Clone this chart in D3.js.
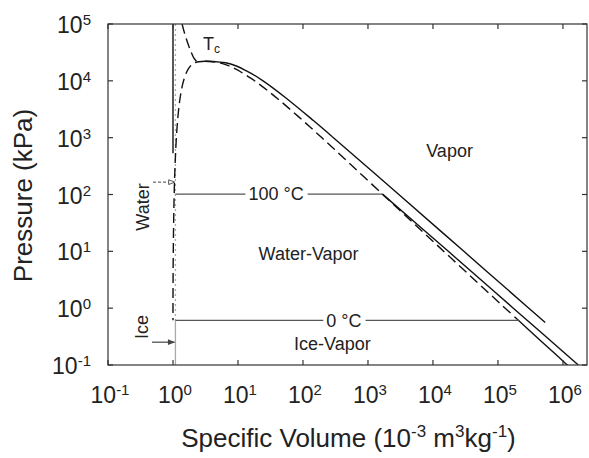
<!DOCTYPE html>
<html>
<head>
<meta charset="utf-8">
<title>Water p-v diagram</title>
<style>
html, body {
  margin: 0;
  padding: 0;
  background: #ffffff;
}

svg {
  display: block;
  font-family: "Liberation Sans", Arial, Helvetica, sans-serif;
}

.frame {
  fill: none;
  stroke: #333333;
  stroke-width: 1.2px;
}

.tick {
  stroke: #333333;
  stroke-width: 1.2px;
}

.tick-label {
  font-size: 23px;
  fill: #222222;
}

.axis-title {
  font-size: 26px;
  fill: #222222;
}

.region {
  font-size: 18px;
  fill: #222222;
}

.curve {
  fill: none;
  stroke: #111111;
  stroke-width: 1.4px;
}

.dashed {
  stroke-dasharray: 10, 5;
}

.isobar {
  stroke: #555555;
  stroke-width: 1.2px;
}

.ice {
  stroke: #aaaaaa;
  stroke-width: 1.3px;
}
</style>
</head>
<body>
<svg width="589" height="458"></svg>

<script src="https://d3js.org/d3.v7.min.js"></script>
<script>
// axis decades (powers of ten)
var xExponents = [-1, 0, 1, 2, 3, 4, 5, 6];
var yExponents = [-1, 0, 1, 2, 3, 4, 5];

// saturation table: pressure (kPa), liquid and vapor specific volume (10^-3 m3/kg)
var satPressure = [22064, 21044, 18666, 16529, 14601, 11284, 8587.9, 6416.6, 4692.3, 3346.9, 2319.6,
  1554.9, 1002.8, 618.23, 361.53, 198.67, 101.42, 70.182, 47.414, 31.201, 19.946, 12.352, 7.3851,
  4.2469, 2.3392, 1.2282, 0.6117];
var satLiquidV = [3.106, 2.217, 1.895, 1.741, 1.638, 1.499, 1.404, 1.333, 1.276, 1.229, 1.190,
  1.157, 1.127, 1.102, 1.080, 1.060, 1.043, 1.036, 1.029, 1.023, 1.017, 1.012, 1.008,
  1.004, 1.002, 1.000, 1.000];
var satVaporV = [3.106, 4.953, 6.950, 8.806, 10.80, 15.48, 21.66, 30.16, 42.13, 59.68, 86.09,
  127.2, 193.9, 307.1, 508.5, 891.5, 1672, 2359, 3405, 5040, 7667, 12026, 19520,
  32880, 57760, 106300, 206000];

// ice-vapor (sublimation) line
var subPressure = [0.6117, 0.4017, 0.2600, 0.1654, 0.1035, 0.0940];
var subVaporV = [206000, 308100, 467100, 720300, 1128800, 1238000];

// critical isotherm, below and above the critical pressure
var critPressure = [22064, 20000, 15000, 10000, 5000, 2000, 1000, 100, 10, 1, 0.56];
var critV = [3.106, 7.5, 13.5, 24.3, 54.7, 144.6, 294, 2986, 29860, 298600, 533000];
var superPressure = [100000, 70000, 45000, 32000, 25000, 22064];
var superV = [1.38, 1.5, 1.7, 1.9, 2.1, 2.3];

// 100 °C isotherm in the vapor
var iso100Pressure = [101.42, 10, 1, 0.1];
var iso100V = [1672, 17220, 172200, 1722000];

// compressed liquid, and ice
var liquidPressure = [100000, 530];
var liquidV = [1.0, 1.0];
var iceV = 1.09;
var triplePressure = 0.6117;
var boilPressure = 101.42;

function zipPts(v, p) {
  return v.map(function(d, i) { return [d, p[i]]; });
}

var svg = d3.select("svg");

var margin = {left: 108, right: 2, top: 24, bottom: 93};
var W = +svg.attr("width"), H = +svg.attr("height");

var x = d3.scaleLog()
  .domain([0.1, Math.pow(10, 6.37)])
  .range([margin.left, W - margin.right]);
var y = d3.scaleLog()
  .domain([0.1, 1e5])
  .range([H - margin.bottom, margin.top]);

var x0 = x.range()[0], x1 = x.range()[1];
var y0 = y.range()[0], y1 = y.range()[1];

svg.append("defs").append("clipPath").attr("id", "plot")
  .append("rect")
    .attr("x", x0).attr("y", y1)
    .attr("width", x1 - x0).attr("height", y0 - y1);

var defs = svg.select("defs");
defs.append("marker")
    .attr("id", "head-filled")
    .attr("viewBox", "0 0 10 10")
    .attr("refX", 9).attr("refY", 5)
    .attr("markerWidth", 7).attr("markerHeight", 6)
    .attr("orient", "auto")
  .append("path")
    .attr("d", "M0,1L10,5L0,9Z")
    .attr("fill", "#444");
defs.append("marker")
    .attr("id", "head-open")
    .attr("viewBox", "0 0 10 10")
    .attr("refX", 9).attr("refY", 5)
    .attr("markerWidth", 7).attr("markerHeight", 6)
    .attr("orient", "auto")
  .append("path")
    .attr("d", "M0,1L10,5L0,9Z")
    .attr("fill", "#fff")
    .attr("stroke", "#444")
    .attr("stroke-width", 1.5);

var line = d3.line()
  .x(function(d) { return x(d[0]); })
  .y(function(d) { return y(d[1]); })
  .curve(d3.curveCatmullRom.alpha(0.5));

var plot = svg.append("g").attr("clip-path", "url(#plot)");

// ice specific volume: dotted above the triple point, solid below
plot.append("path")
  .attr("class", "curve ice")
  .attr("stroke-dasharray", "2,3")
  .attr("d", line([[iceV, 1e5], [iceV, triplePressure]]));
plot.append("path")
  .attr("class", "curve ice")
  .attr("d", line([[iceV, triplePressure], [iceV, 0.05]]));

// compressed liquid
plot.append("path")
  .attr("class", "curve")
  .attr("stroke-width", 2)
  .attr("d", line(zipPts(liquidV, liquidPressure)));

// saturation dome
plot.append("path")
  .attr("class", "curve dashed")
  .attr("d", line(zipPts(satLiquidV, satPressure)));
plot.append("path")
  .attr("class", "curve dashed")
  .attr("d", line(zipPts(satVaporV, satPressure)));
plot.append("path")
  .attr("class", "curve dashed")
  .attr("d", line(zipPts(superV, superPressure)));

// critical isotherm, 100 °C isotherm, sublimation line
plot.append("path")
  .attr("class", "curve")
  .attr("d", line(zipPts(critV, critPressure)));
plot.append("path")
  .attr("class", "curve")
  .attr("d", line(zipPts(iso100V, iso100Pressure)));
plot.append("path")
  .attr("class", "curve")
  .attr("d", line(zipPts(subVaporV, subPressure)));

// labelled isobars (line broken around the label)
function isobar(p, vEnd, label, vLabel, dyBase) {
  var t = svg.append("text")
    .attr("class", "region")
    .attr("text-anchor", "middle")
    .attr("x", x(vLabel))
    .attr("y", y(p) + dyBase)
    .text(label);
  var bb = t.node().getBBox();
  svg.append("line").attr("class", "isobar")
    .attr("x1", x(iceV)).attr("x2", bb.x - 3)
    .attr("y1", y(p)).attr("y2", y(p));
  svg.append("line").attr("class", "isobar")
    .attr("x1", bb.x + bb.width + 4).attr("x2", x(vEnd))
    .attr("y1", y(p)).attr("y2", y(p));
}
isobar(boilPressure, 1672, "100 \u00B0C", 38.5, 6);
isobar(triplePressure, 206000, "0 \u00B0C", 427, 7);

// frame
svg.append("rect")
  .attr("class", "frame")
  .attr("x", x0).attr("y", y1)
  .attr("width", x1 - x0).attr("height", y0 - y1);

// ticks, inward on all four sides
xExponents.forEach(function(e) {
  var px = x(Math.pow(10, e));
  svg.append("line").attr("class", "tick")
    .attr("x1", px).attr("x2", px).attr("y1", y0).attr("y2", y0 - 5);
  svg.append("line").attr("class", "tick")
    .attr("x1", px).attr("x2", px).attr("y1", y1).attr("y2", y1 + 5);
  var t = svg.append("text")
    .attr("class", "tick-label")
    .attr("text-anchor", "middle")
    .attr("x", px + 2)
    .attr("y", y0 + 38);
  t.append("tspan").text("10");
  t.append("tspan").attr("font-size", "15px").attr("dy", -8).text(e);
});

yExponents.forEach(function(e) {
  var py = y(Math.pow(10, e));
  svg.append("line").attr("class", "tick")
    .attr("x1", x0).attr("x2", x0 + 5).attr("y1", py).attr("y2", py);
  svg.append("line").attr("class", "tick")
    .attr("x1", x1).attr("x2", x1 - 5).attr("y1", py).attr("y2", py);
  var t = svg.append("text")
    .attr("class", "tick-label")
    .attr("text-anchor", "end")
    .attr("x", 91)
    .attr("y", py + 9);
  t.append("tspan").text("10");
  t.append("tspan").attr("font-size", "15px").attr("dy", -8).text(e);
});

// axis titles
svg.append("text")
  .attr("class", "axis-title")
  .attr("text-anchor", "middle")
  .attr("transform", "translate(32," + ((y0 + y1) / 2 + 1) + ") rotate(-90)")
  .text("Pressure (kPa)");

var xt = svg.append("text")
  .attr("class", "axis-title")
  .attr("text-anchor", "middle")
  .attr("x", (x0 + x1) / 2 + 1)
  .attr("y", 447);
xt.append("tspan").text("Specific Volume (10");
xt.append("tspan").attr("font-size", "17px").attr("dy", -10).text("-3");
xt.append("tspan").attr("dy", 10).text(" m");
xt.append("tspan").attr("font-size", "17px").attr("dy", -10).text("3");
xt.append("tspan").attr("dy", 10).text("kg");
xt.append("tspan").attr("font-size", "17px").attr("dy", -10).text("-1");
xt.append("tspan").attr("dy", 10).text(")");

// region labels
svg.append("text").attr("class", "region").attr("text-anchor", "middle")
  .attr("x", x(1.8e4)).attr("y", y(460)).text("Vapor");
svg.append("text").attr("class", "region").attr("text-anchor", "middle")
  .attr("x", x(122)).attr("y", y(7.0)).text("Water-Vapor");
svg.append("text").attr("class", "region").attr("text-anchor", "middle")
  .attr("x", x(284)).attr("y", y(0.182)).text("Ice-Vapor");

var tc = svg.append("text").attr("class", "region")
  .attr("x", 203).attr("y", 50);
tc.append("tspan").text("T");
tc.append("tspan").attr("font-size", "12px").attr("dy", 3).text("c");

svg.append("text").attr("class", "region").attr("text-anchor", "middle")
  .attr("transform", "translate(149,207) rotate(-90)")
  .text("Water");
svg.append("text").attr("class", "region").attr("text-anchor", "middle")
  .attr("transform", "translate(148,327) rotate(-90)")
  .text("Ice");

// arrows pointing at the liquid and ice lines
svg.append("line")
  .attr("x1", 153).attr("x2", x(1.04))
  .attr("y1", y(165)).attr("y2", y(165))
  .attr("stroke", "#444").attr("stroke-width", 1)
  .attr("stroke-dasharray", "3,2")
  .attr("marker-end", "url(#head-open)");
svg.append("line")
  .attr("x1", 152).attr("x2", x(iceV) - 1)
  .attr("y1", y(0.252)).attr("y2", y(0.252))
  .attr("stroke", "#444").attr("stroke-width", 1.2)
  .attr("marker-end", "url(#head-filled)");
</script>
</body>
</html>
